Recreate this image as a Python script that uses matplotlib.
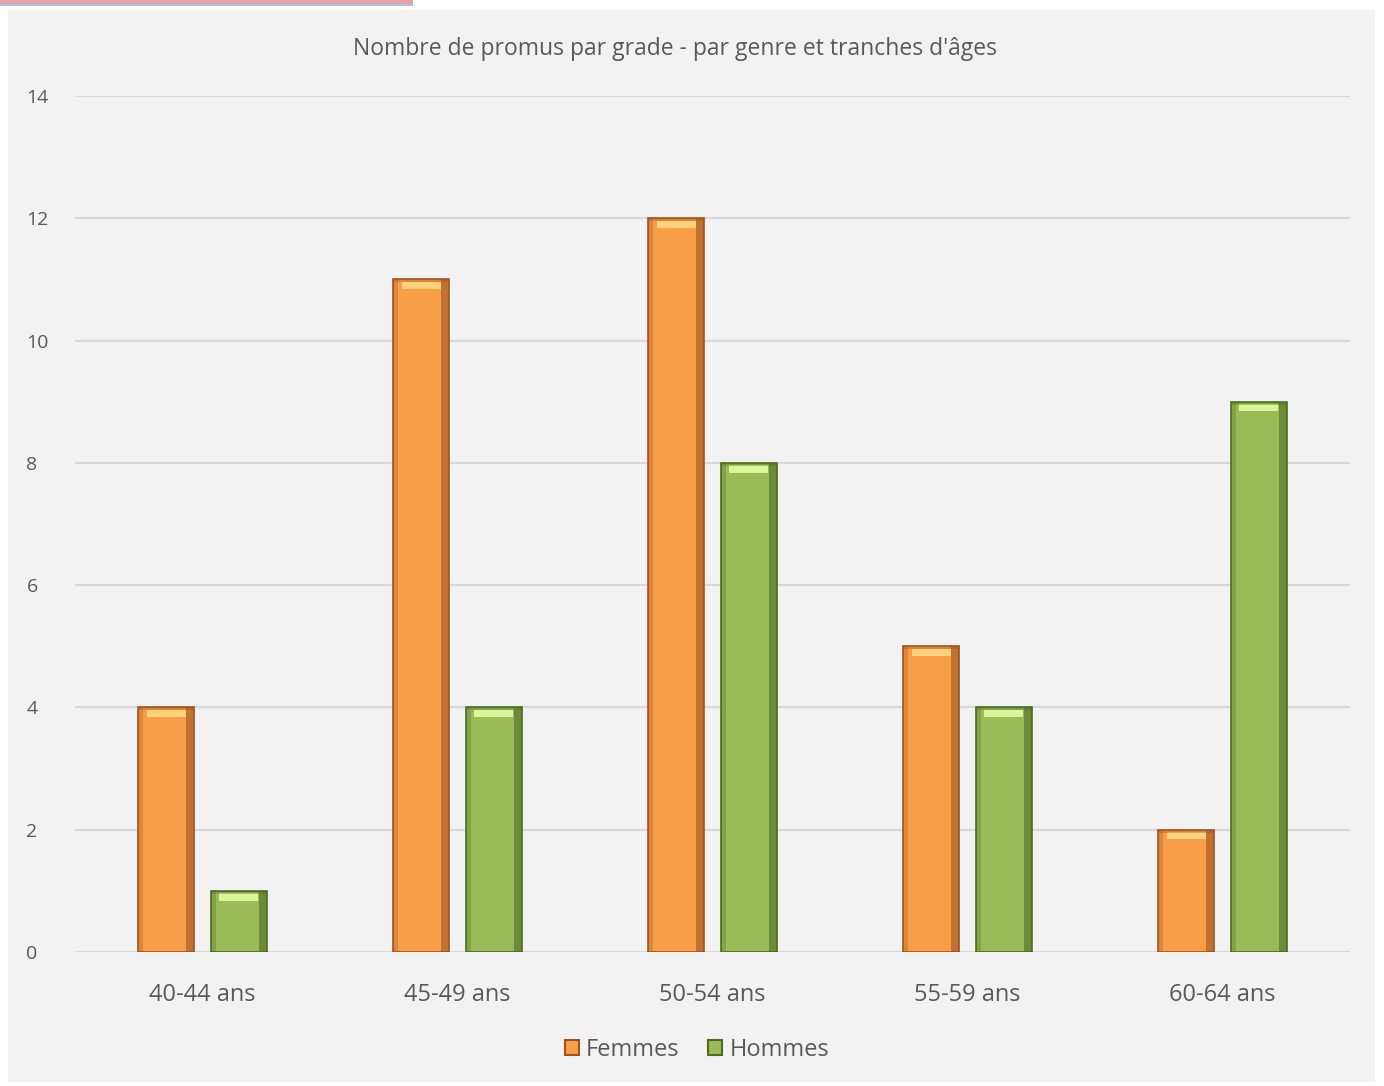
import matplotlib
matplotlib.use("Agg")
import matplotlib.pyplot as plt
from matplotlib.patches import Rectangle, Patch
import numpy as np

categories = ["40-44 ans", "45-49 ans", "50-54 ans", "55-59 ans", "60-64 ans"]
femmes = [4, 11, 12, 5, 2]
hommes = [1, 4, 8, 4, 9]
series_names = ["Femmes", "Hommes"]
title = "Nombre de promus par grade - par genre et tranches d'âges"
yticks = [0, 2, 4, 6, 8, 10, 12, 14]

plt.rcParams['font.family'] = ['Open Sans', 'DejaVu Sans']

W, H = 1384, 1086
fig = plt.figure(figsize=(W / 100, H / 100), dpi=100, facecolor='white')

# background panel
fig.patches.append(Rectangle((8 / W, 1 - 1082 / H), (1375 - 8) / W, (1082 - 10) / H,
                             transform=fig.transFigure, facecolor='#f2f2f2', edgecolor='none', zorder=-5))
# top decorative lines
fig.patches.append(Rectangle((0, 1 - 4 / H), 413 / W, 4 / H, transform=fig.transFigure,
                             facecolor='#e3a3a6', edgecolor='none', zorder=-4))
fig.patches.append(Rectangle((0, 1 - 6 / H), 413 / W, 2 / H, transform=fig.transFigure,
                             facecolor='#a9c4e6', edgecolor='none', zorder=-4))

ax = fig.add_axes([75 / W, 1 - 952 / H, (1350 - 75) / W, (952 - 96) / H])
ax.set_facecolor('none')
ax.set_zorder(2)

x = np.arange(len(categories))
w = 0.22
off = 0.142

def draw(xpos, vals, main, dark, light):
    vals = np.array(vals, dtype=float)
    ax.bar(xpos, vals, w, color=main, edgecolor=dark, linewidth=1.2, zorder=3)
    # right shadow
    ax.bar(xpos + w / 2 - 0.016, vals, 0.032, color=dark, alpha=0.6, linewidth=0, zorder=4)
    # left shadow
    ax.bar(xpos - w / 2 + 0.01, vals, 0.02, color=dark, alpha=0.30, linewidth=0, zorder=4)
    # top highlight
    ax.bar(xpos, np.full_like(vals, 0.12), w * 0.7, bottom=vals - 0.16, color=light,
           linewidth=0, zorder=5)
    ax.bar(xpos, np.full_like(vals, 0.05), w, bottom=vals - 0.05, color=dark, alpha=0.35,
           linewidth=0, zorder=5)

draw(x - off, femmes, '#F99E48', '#9c5420', '#FDD27A')
draw(x + off, hommes, '#9BBB59', '#4f6a22', '#DDF59A')

ax.set_xlim(-0.5, len(categories) - 0.5)
ax.set_ylim(0, 14)
ax.set_yticks(yticks)
ax.set_xticks(x)
ax.set_xticklabels(categories)
ax.yaxis.grid(True, color='#d9d9d9', linewidth=1.5, zorder=0)
ax.set_axisbelow(True)
for s in ax.spines.values():
    s.set_visible(False)
ax.tick_params(axis='both', length=0, colors='#595959')
ax.tick_params(axis='x', labelsize=17, pad=22)
ax.tick_params(axis='y', labelsize=14, pad=35)
for lbl in ax.get_yticklabels():
    lbl.set_horizontalalignment('left')

fig.text(675 / W, 1 - 49 / H, title, ha='center', va='center', fontsize=16.5, color='#595959')

handles = [Patch(facecolor='#F99E48', edgecolor='#9c5420', linewidth=1.5),
           Patch(facecolor='#9BBB59', edgecolor='#4f6a22', linewidth=1.5)]
fig.legend(handles, series_names, loc='center', bbox_to_anchor=(697 / W, 1 - 1050 / H), ncol=2,
           frameon=False, fontsize=17, handlelength=0.6, handleheight=0.6, handletextpad=0.3,
           columnspacing=1.2, labelcolor='#595959')

fig.savefig('out.png', dpi=100, facecolor='white')
